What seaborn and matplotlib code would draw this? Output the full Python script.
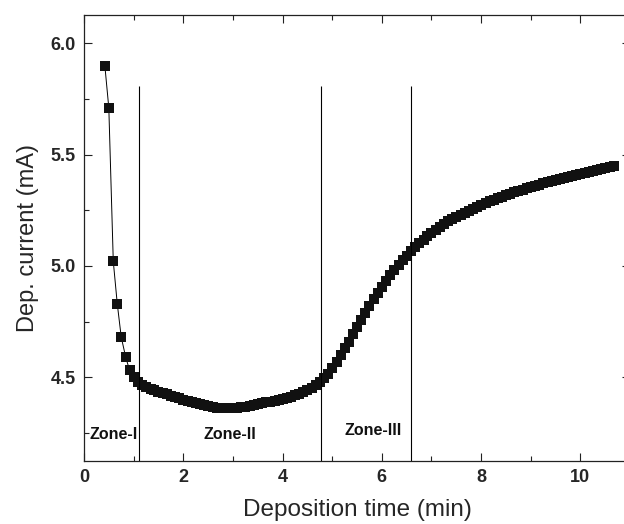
import numpy as np
import pandas as pd
import matplotlib
matplotlib.use("Agg")
import matplotlib.pyplot as plt
import seaborn as sns
from matplotlib.ticker import MultipleLocator

# Deposition time (min) and deposition current (mA)
time_min = [
    0.42, 0.50, 0.59, 0.67, 0.75, 0.84, 0.92, 1.00, 1.09, 1.17,
    1.25, 1.34, 1.42, 1.50, 1.59, 1.67, 1.75, 1.84, 1.92, 2.00,
    2.09, 2.17, 2.25, 2.34, 2.42, 2.50, 2.59, 2.67, 2.75, 2.84,
    2.92, 3.00, 3.09, 3.17, 3.25, 3.34, 3.42, 3.50, 3.59, 3.67,
    3.75, 3.84, 3.92, 4.00, 4.09, 4.17, 4.25, 4.34, 4.42, 4.50,
    4.59, 4.67, 4.75, 4.84, 4.92, 5.00, 5.09, 5.17, 5.25, 5.34,
    5.42, 5.50, 5.59, 5.67, 5.75, 5.84, 5.92, 6.00, 6.09, 6.17,
    6.25, 6.34, 6.42, 6.50, 6.59, 6.67, 6.75, 6.84, 6.92, 7.00,
    7.09, 7.17, 7.25, 7.34, 7.42, 7.50, 7.59, 7.67, 7.75, 7.84,
    7.92, 8.00, 8.09, 8.17, 8.25, 8.34, 8.42, 8.50, 8.59, 8.67,
    8.75, 8.84, 8.92, 9.00, 9.09, 9.17, 9.25, 9.34, 9.42, 9.50,
    9.59, 9.67, 9.75, 9.84, 9.92, 10.00, 10.09, 10.17, 10.25, 10.34,
    10.42, 10.50, 10.59, 10.67,
]
current_ma = [
    5.900, 5.710, 5.020, 4.830, 4.680, 4.590, 4.530, 4.500, 4.480, 4.465,
    4.455, 4.447, 4.440, 4.434, 4.428, 4.422, 4.416, 4.410, 4.404, 4.398,
    4.392, 4.387, 4.382, 4.377, 4.373, 4.369, 4.366, 4.363, 4.361, 4.360,
    4.360, 4.361, 4.362, 4.364, 4.367, 4.370, 4.374, 4.378, 4.382, 4.386,
    4.390, 4.394, 4.398, 4.402, 4.407, 4.412, 4.418, 4.425, 4.433, 4.442,
    4.452, 4.464, 4.478, 4.495, 4.515, 4.540, 4.570, 4.600, 4.630, 4.660,
    4.692, 4.725, 4.758, 4.790, 4.820, 4.850, 4.878, 4.905, 4.931, 4.957,
    4.981, 5.004, 5.026, 5.046, 5.065, 5.084, 5.101, 5.118, 5.134, 5.149,
    5.163, 5.176, 5.188, 5.200, 5.211, 5.221, 5.231, 5.240, 5.249, 5.258,
    5.266, 5.274, 5.282, 5.290, 5.297, 5.304, 5.311, 5.318, 5.325, 5.331,
    5.337, 5.343, 5.349, 5.355, 5.361, 5.366, 5.371, 5.376, 5.381, 5.386,
    5.391, 5.396, 5.401, 5.406, 5.410, 5.415, 5.419, 5.423, 5.427, 5.431,
    5.435, 5.439, 5.443, 5.447,
]

# Zone boundaries (min) and zone labels
zone_bounds = [1.11, 4.78, 6.58]
zone_names = ["Zone-I", "Zone-II", "Zone-III"]
zone_label_x = [0.60, 2.94, 5.82]
zone_label_y = [4.24, 4.24, 4.26]

df = pd.DataFrame({"time": time_min, "current": current_ma})

sns.set_theme(style="ticks")
plt.rcParams["font.family"] = ["Liberation Sans", "DejaVu Sans"]

fig = plt.figure(figsize=(6.24, 5.24), dpi=100)
ax = fig.add_axes([84 / 624, 63 / 524, 546 / 624, 446 / 524])

sns.lineplot(data=df, x="time", y="current", ax=ax, color="black",
             linewidth=0.7, marker="s", markersize=6.8, markeredgewidth=0,
             markerfacecolor="#111111")

ax.vlines(zone_bounds, 4.12, 5.81, color="black", linewidth=0.8)
for name, lx, ly in zip(zone_names, zone_label_x, zone_label_y):
    ax.text(lx, ly, name, ha="center", va="center", fontsize=11.5,
            fontweight="bold", color="#111111")

ax.set_xlim(0, 11.0)
ax.set_ylim(4.123, 6.128)
ax.xaxis.set_major_locator(MultipleLocator(2))
ax.xaxis.set_minor_locator(MultipleLocator(1))
ax.yaxis.set_major_locator(MultipleLocator(0.5))
ax.yaxis.set_minor_locator(MultipleLocator(0.25))
ax.yaxis.set_major_formatter(plt.FormatStrFormatter("%.1f"))

ax.tick_params(which="both", direction="in", top=True, right=True,
               color="#222222", width=0.8)
ax.tick_params(which="major", length=6, pad=6, labelsize=13)
ax.tick_params(which="minor", length=3.5)
for lab in ax.get_xticklabels() + ax.get_yticklabels():
    lab.set_fontweight("bold")

for sp in ax.spines.values():
    sp.set_linewidth(0.9)
    sp.set_color("#222222")

ax.set_xlabel("Deposition time (min)", fontsize=17.5, labelpad=9)
ax.set_ylabel("Dep. current (mA)", fontsize=17, labelpad=8)

fig.savefig("out.png", dpi=100)
